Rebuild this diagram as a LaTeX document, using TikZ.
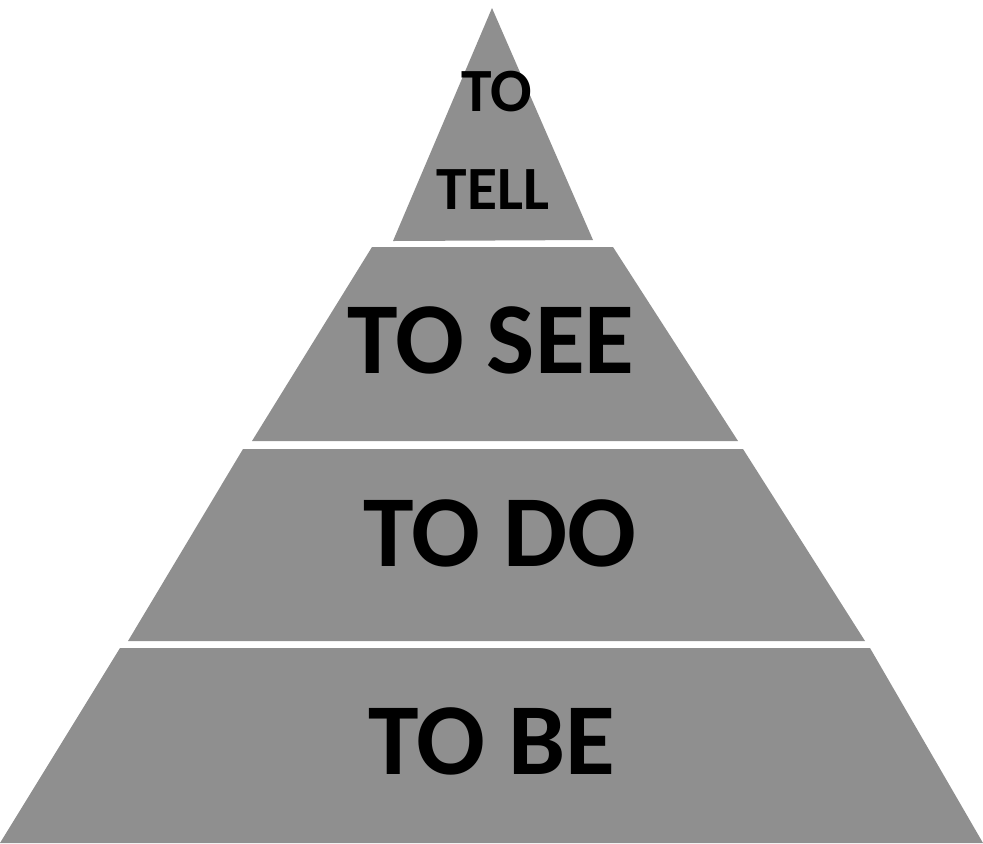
\documentclass[tikz,border=0pt]{standalone}
\usepackage{fontspec}
\setmainfont{Carlito}
\definecolor{bandgray}{gray}{0.56}
\begin{document}
\begin{tikzpicture}[x=0.02cm, y=-0.02cm, line join=round,
	band/.style={fill=bandgray, draw=none},
	word/.style={font=\bfseries\fontsize{58}{60}\selectfont, inner sep=0pt, text=black},
	smallword/.style={font=\bfseries\fontsize{35}{37}\selectfont, inner sep=0pt, text=black}]
			\useasboundingbox (0,0) rectangle (983,843);
			\path
			(492,8) coordinate (T) 
			(593,240) coordinate (T1) 
			(393,241) coordinate (T2)
			(372,247) coordinate (S1) (613,247) coordinate (S2)
			(738,441) coordinate (S3) (252,441) coordinate (S4)
			(243,449) coordinate (D1) (743,449) coordinate (D2)
			(865,641) coordinate (D3) (128,641) coordinate (D4)
			(120,648) coordinate (B1) (870,648) coordinate (B2)
			(983,843) coordinate (B3) (0,843) coordinate (B4);
			\fill[band] (T)--(T1)--(T2)--cycle;
			\foreach \p in {S,D,B}
			\fill[band] (\p1)--(\p2)--(\p3)--(\p4)--cycle;
			\node[smallword] (to) at (497,92) {TO};
			\node[smallword] (tell) at (493,190) {TELL};
			\node[word] (see) at (491,340) {TO SEE};
			\node[word] (do) at (500,533) {TO DO};
			\node[word] (be) at (492,741) {TO BE};
		\end{tikzpicture}
\end{document}
